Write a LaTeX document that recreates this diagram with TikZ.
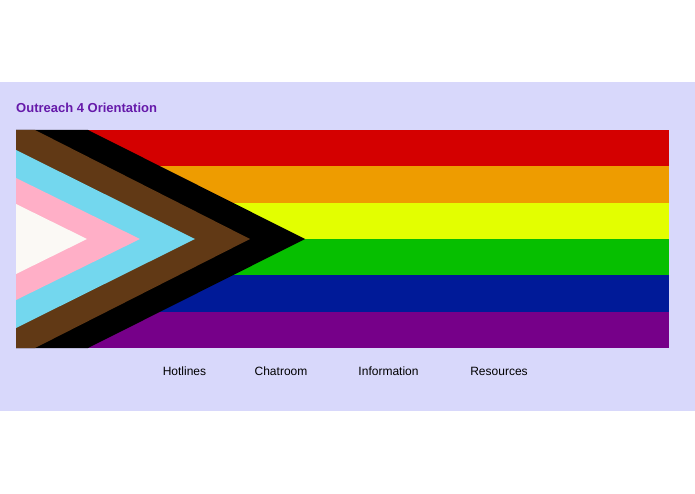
\documentclass[tikz,border=0pt]{standalone}
\usepackage{fontspec}
\setmainfont{Liberation Sans}
\definecolor{panelbg}{RGB}{216,216,251}
\definecolor{titlepurple}{RGB}{102,26,170}
\definecolor{flagred}{RGB}{212,0,0}
\definecolor{flagorange}{RGB}{238,156,0}
\definecolor{flagyellow}{RGB}{227,255,0}
\definecolor{flaggreen}{RGB}{6,191,0}
\definecolor{flagblue}{RGB}{0,26,152}
\definecolor{flagpurple}{RGB}{118,0,137}
\definecolor{chevbrown}{RGB}{97,57,21}
\definecolor{chevblue}{RGB}{115,215,238}
\definecolor{chevpink}{RGB}{255,175,199}
\definecolor{chevwhite}{RGB}{251,249,245}
\begin{document}
\begin{tikzpicture}[x=1pt,y=-1pt,menu/.style={anchor=center,font=\fontsize{12}{14}\selectfont}]
\useasboundingbox (0,0) rectangle (695,494);
\fill[white] (0,0) rectangle (695,494);
\fill[panelbg] (0,82) rectangle (695,411);
\node (title) at (16,108) [anchor=west,inner sep=0pt,color=titlepurple,font=\fontsize{13}{15}\selectfont\bfseries] {Outreach 4 Orientation};
% rainbow stripes
	\foreach \c [count=\i from 0] in {flagred,flagorange,flagyellow,flaggreen,flagblue,flagpurple} {
		\fill[\c] (16,130+\i*36.33) rectangle (669,166.33+\i*36.33);
		}
% chevrons
\fill[black] (16,130) -- (88,130) -- (305,239) -- (88,348) -- (16,348) -- cycle;
\fill[chevbrown] (16,130) -- (35,130) -- (250,239) -- (35,348) -- (16,348) -- cycle;
\fill[chevblue] (16,150) -- (195,239) -- (16,328) -- cycle;
\fill[chevpink] (16,178) -- (140,239) -- (16,300) -- cycle;
\fill[chevwhite] (16,204) -- (87,239) -- (16,274) -- cycle;
\node (hotlines) at (184.5,371) [menu] {Hotlines};
\node (chatroom) at (281,371) [menu] {Chatroom};
\node (information) at (388.5,371) [menu] {Information};
\node (resources) at (499,371) [menu] {Resources};
\end{tikzpicture}
\end{document}
